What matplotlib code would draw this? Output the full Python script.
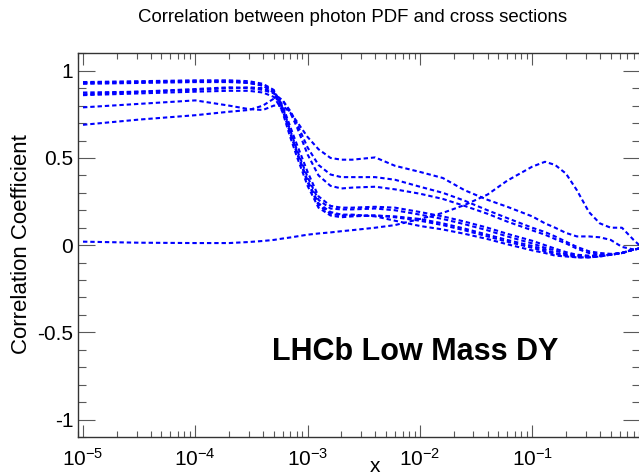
import numpy as np
import matplotlib
matplotlib.use('Agg')
import matplotlib.pyplot as plt
from matplotlib.ticker import LogLocator, NullFormatter, FixedLocator, MultipleLocator

plt.rcParams['font.family'] = ['Liberation Sans', 'DejaVu Sans']
plt.rcParams['mathtext.fontset'] = 'custom'
plt.rcParams['mathtext.rm'] = 'Liberation Sans'
plt.rcParams['mathtext.it'] = 'Liberation Sans'

# x grid (momentum fraction)
x_vals = [1e-5, 3.16e-5, 1e-4, 2e-4, 3e-4, 4e-4, 5e-4, 6e-4, 7e-4, 8e-4, 1e-3,
          1.25e-3, 1.6e-3, 2e-3, 2.5e-3, 4e-3, 6e-3, 1e-2, 1.6e-2, 2.5e-2, 4e-2,
          6e-2, 0.1, 0.13, 0.16, 0.2, 0.25, 0.32, 0.4, 0.5, 0.63, 0.8, 0.9]

# correlation coefficient curves
corr_a = [0.79, 0.81, 0.83, 0.80, 0.78, 0.775, 0.80, 0.80, 0.76, 0.71, 0.62,
          0.55, 0.50, 0.49, 0.49, 0.503, 0.455, 0.42, 0.385, 0.315, 0.26,
          0.22, 0.165, 0.125, 0.10, 0.07, 0.05, 0.05, 0.045, 0.03, -0.01, -0.025, -0.02]
corr_b = [0.69, 0.72, 0.745, 0.765, 0.775, 0.80, 0.84, 0.83, 0.77, 0.70, 0.56,
          0.46, 0.405, 0.39, 0.39, 0.39, 0.375, 0.335, 0.30, 0.255, 0.20,
          0.155, 0.10, 0.075, 0.05, 0.02, -0.01, -0.035, -0.045, -0.05, -0.045, -0.025, -0.02]
corr_c = [0.865, 0.88, 0.895, 0.905, 0.90, 0.89, 0.87, 0.83, 0.76, 0.68, 0.52,
          0.40, 0.34, 0.325, 0.33, 0.335, 0.32, 0.295, 0.265, 0.225, 0.18,
          0.135, 0.085, 0.06, 0.035, 0.01, -0.02, -0.045, -0.055, -0.055, -0.045, -0.025, -0.02]
corr_d = [0.93, 0.935, 0.94, 0.94, 0.93, 0.915, 0.885, 0.80, 0.68, 0.58, 0.42,
          0.28, 0.225, 0.215, 0.215, 0.22, 0.215, 0.19, 0.165, 0.135, 0.10,
          0.065, 0.025, 0.0, -0.02, -0.04, -0.055, -0.06, -0.06, -0.055, -0.045, -0.025, -0.02]
corr_e = [0.875, 0.88, 0.89, 0.90, 0.905, 0.90, 0.875, 0.79, 0.66, 0.55, 0.39,
          0.26, 0.21, 0.205, 0.205, 0.21, 0.20, 0.175, 0.15, 0.12, 0.085,
          0.05, 0.01, -0.015, -0.03, -0.05, -0.06, -0.065, -0.06, -0.055, -0.045, -0.025, -0.02]
corr_f = [0.935, 0.94, 0.945, 0.945, 0.94, 0.925, 0.89, 0.78, 0.64, 0.53, 0.36,
          0.23, 0.18, 0.17, 0.17, 0.17, 0.16, 0.14, 0.115, 0.085, 0.05,
          0.02, -0.015, -0.035, -0.05, -0.06, -0.07, -0.07, -0.065, -0.055, -0.045, -0.025, -0.02]
corr_g = [0.925, 0.93, 0.935, 0.935, 0.93, 0.915, 0.875, 0.76, 0.62, 0.51, 0.34,
          0.215, 0.17, 0.16, 0.165, 0.17, 0.165, 0.15, 0.125, 0.095, 0.06,
          0.03, -0.005, -0.025, -0.045, -0.055, -0.065, -0.065, -0.06, -0.055, -0.045, -0.025, -0.02]
corr_h = [0.86, 0.87, 0.88, 0.885, 0.885, 0.875, 0.85, 0.77, 0.65, 0.54, 0.37,
          0.24, 0.19, 0.175, 0.175, 0.165, 0.14, 0.11, 0.09, 0.065, 0.035,
          0.005, -0.03, -0.045, -0.06, -0.065, -0.07, -0.07, -0.065, -0.055, -0.045, -0.025, -0.02]
corr_p = [0.02, 0.014, 0.012, 0.012, 0.018, 0.024, 0.03, 0.038, 0.044, 0.05, 0.06,
          0.067, 0.073, 0.08, 0.086, 0.10, 0.115, 0.15, 0.185, 0.23, 0.29,
          0.37, 0.45, 0.478, 0.46, 0.41, 0.315, 0.19, 0.125, 0.10, 0.10, 0.03, 0.0]

curves = [corr_a, corr_b, corr_c, corr_d, corr_e, corr_f, corr_g, corr_h, corr_p]

y_ticks = [-1, -0.5, 0, 0.5, 1]
y_ticklabels = ['-1', '-0.5', '0', '0.5', '1']
x_ticks = [1e-5, 1e-4, 1e-3, 1e-2, 1e-1]
x_ticklabels = ['$10^{-5}$', '$10^{-4}$', '$10^{-3}$', '$10^{-2}$', '$10^{-1}$']

fig = plt.figure(figsize=(6.39, 4.76), dpi=100)
ax = fig.add_axes([77.5 / 639, 1 - 437 / 476, (640 - 77.5) / 639, (437 - 53.3) / 476])

for c in curves:
    ax.plot(x_vals, c, color='#0000ff', lw=1.5, dashes=(2.1, 1.4))

ax.set_xscale('log')
ax.set_xlim(10 ** -5.049, 10 ** -0.04)
ax.set_ylim(-1.1, 1.1)

ax.xaxis.set_major_locator(FixedLocator(x_ticks))
ax.set_xticklabels(x_ticklabels)
ax.xaxis.set_minor_locator(LogLocator(base=10, subs=np.arange(2, 10)))
ax.xaxis.set_minor_formatter(NullFormatter())
ax.set_yticks(y_ticks)
ax.set_yticklabels(y_ticklabels)
ax.yaxis.set_minor_locator(MultipleLocator(0.1))

ax.tick_params(axis='both', which='both', direction='in', top=True, right=True,
               color='0.35', width=0.8)
ax.tick_params(axis='y', which='major', length=12, labelsize=15, pad=3)
ax.tick_params(axis='y', which='minor', length=6)
ax.tick_params(axis='x', which='major', length=8.5, labelsize=15, pad=8)
ax.tick_params(axis='x', which='minor', length=4)
for s in ax.spines.values():
    s.set_linewidth(1.0)
    s.set_color('0.2')

fig.text(22 / 639, 1 - 244 / 476, 'Correlation Coefficient', rotation=90,
         ha='center', va='center', fontsize=16)
fig.text(375 / 639, 1 - 467 / 476, 'x', ha='center', va='center', fontsize=15)
fig.text(353 / 639, 1 - 18 / 476, 'Correlation between photon PDF and cross sections',
         ha='center', va='center', fontsize=13.4)
fig.text(415 / 639, 1 - 352 / 476, 'LHCb Low Mass DY', ha='center', va='center',
         fontsize=22, fontweight='bold')

fig.savefig('out.png', dpi=100)
